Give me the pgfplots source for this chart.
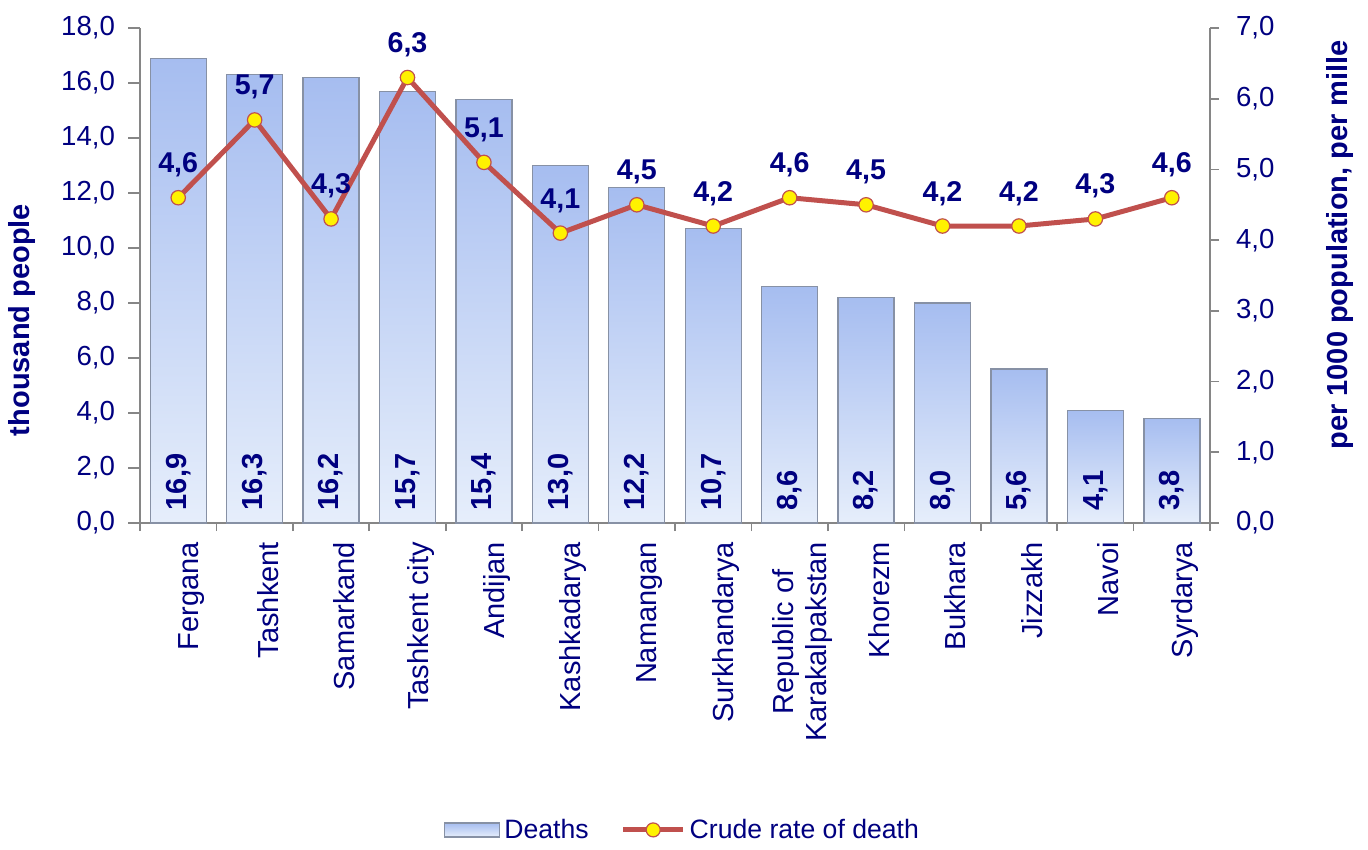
\documentclass[border=0pt]{standalone}
\usepackage{pgfplots}
\pgfplotsset{compat=1.18}
\usepackage{fontspec}
\setmainfont{Liberation Sans}
\definecolor{txtnavy}{RGB}{0,0,128}
\definecolor{linered}{RGB}{192,80,77}
\definecolor{bartop}{RGB}{166,189,240}
\definecolor{barbot}{RGB}{230,238,251}
\definecolor{bardraw}{RGB}{135,145,165}
\definecolor{axgray}{RGB}{134,134,134}
\begin{document}
\begin{tikzpicture}[font=\fontsize{13.8}{16}\selectfont]
\pgfplotsset{
  base/.style={
    width=535pt, height=247.5pt, scale only axis,
    at={(0pt,0pt)}, anchor=south west,
    xmin=-0.5, xmax=13.5,
    /pgf/number format/assume math mode=true,
    /pgf/number format/.cd, fixed, fixed zerofill, precision=1, use comma, /pgfplots/.cd,
    tick label style={text=txtnavy, font=\fontsize{13.8}{16}\selectfont},
    label style={text=txtnavy, font=\fontsize{14.5}{17}\selectfont\bfseries},
    axis line style={-, draw=axgray, line width=0.8pt},
    tick style={draw=axgray, line width=0.8pt},
    tick align=outside,
  },
  barst/.style={ybar, bar width=28pt, draw=bardraw, line width=0.7pt, top color=bartop, bottom color=barbot},
}
\begin{axis}[base,
  ymin=0, ymax=18, ytick={0,2,4,6,8,10,12,14,16,18},
  axis y line*=left, axis x line*=bottom,
  major tick length=6pt,
  yticklabel style={xshift=-3pt},
  xtick={0,...,13},
  xticklabels={Fergana,Tashkent,Samarkand,Tashkent city,Andijan,Kashkadarya,Namangan,Surkhandarya,{Republic of\\Karakalpakstan},Khorezm,Bukhara,Jizzakh,Navoi,Syrdarya},
  xticklabel style={rotate=90, anchor=east, align=center, yshift=-6.5pt, font=\fontsize{14.5}{16.5}\selectfont},
  major x tick style={draw=none},
  minor xtick={-0.5,0.5,...,13.5},
  minor tick length=4pt,
  ylabel={thousand people},
  ylabel style={at={(axis description cs:-0.1103,0.41)}, anchor=center, rotate=0},
]
\addplot[barst] coordinates {(0,16.9)};
\addplot[barst] coordinates {(1,16.3)};
\addplot[barst] coordinates {(2,16.2)};
\addplot[barst] coordinates {(3,15.7)};
\addplot[barst] coordinates {(4,15.4)};
\addplot[barst] coordinates {(5,13.0)};
\addplot[barst] coordinates {(6,12.2)};
\addplot[barst] coordinates {(7,10.7)};
\addplot[barst] coordinates {(8,8.6)};
\addplot[barst] coordinates {(9,8.2)};
\addplot[barst] coordinates {(10,8.0)};
\addplot[barst] coordinates {(11,5.6)};
\addplot[barst] coordinates {(12,4.1)};
\addplot[barst] coordinates {(13,3.8)};
\addplot[draw=none, mark=none, forget plot, nodes near coords, point meta=explicit symbolic,
  every node near coord/.style={rotate=90, anchor=west, inner sep=0pt, text=txtnavy, font=\fontsize{14.5}{17}\selectfont\bfseries}]
  table[x=x, y=y, meta=lab] {
x y lab
0 0.45 16,9
1 0.45 16,3
2 0.45 16,2
3 0.45 15,7
4 0.45 15,4
5 0.45 13,0
6 0.45 12,2
7 0.45 10,7
8 0.45 8,6
9 0.45 8,2
10 0.45 8,0
11 0.45 5,6
12 0.45 4,1
13 0.45 3,8
};
\end{axis}
\begin{axis}[base,
  ymin=0, ymax=7, ytick={0,1,2,3,4,5,6,7},
  axis y line*=right, axis x line=none,
  major tick length=4.5pt,
  yticklabel style={xshift=5pt},
  ylabel={per 1000 population, per mille},
  ylabel style={at={(axis description cs:1.1215,0.562)}, anchor=center, rotate=0},
  legend style={at={(axis description cs:0.508,-0.620)}, anchor=center, draw=none, fill=none,
    legend columns=2, text=txtnavy, font=\fontsize{13.3}{16}\selectfont,
    /tikz/every even column/.append style={column sep=14pt}},
]
\addlegendimage{legend image code/.code={\draw[draw=bardraw, line width=0.6pt, top color=bartop, bottom color=barbot] (0pt,-3.5pt) rectangle (27.5pt,3.5pt);}}
\addlegendentry{Deaths}
\addplot[linered, line width=2.5pt, mark=*, mark size=3.6pt,
  mark options={fill=yellow, draw=linered, line width=0.6pt},
  nodes near coords, point meta=explicit symbolic,
  every node near coord/.style={anchor=base, inner sep=0pt, yshift=12.5pt, text=txtnavy, font=\fontsize{14.3}{17}\selectfont\bfseries},
  legend image code/.code={\draw[linered, line width=2.5pt] (0pt,0pt) -- (30pt,0pt); \draw[fill=yellow, draw=linered, line width=0.6pt] (15pt,0pt) circle (3.5pt);}]
  table[x=x, y=y, meta=lab] {
x y lab
0 4.6 4,6
1 5.7 5,7
2 4.3 4,3
3 6.3 6,3
4 5.1 5,1
5 4.1 4,1
6 4.5 4,5
7 4.2 4,2
8 4.6 4,6
9 4.5 4,5
10 4.2 4,2
11 4.2 4,2
12 4.3 4,3
13 4.6 4,6
};
\addlegendentry{Crude rate of death}
\end{axis}
\path (-70pt,-160pt) rectangle (614pt,261.5pt);
\end{tikzpicture}
\end{document}
